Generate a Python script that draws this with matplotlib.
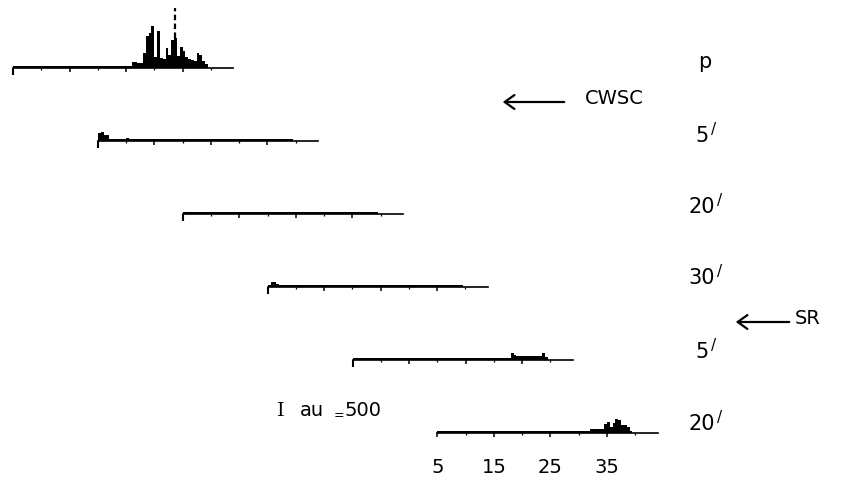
import numpy as np
import matplotlib
matplotlib.use("Agg")
import matplotlib.pyplot as plt

# ---------------- data ----------------
x_start = 5.0          # first bin edge
bin_width = 0.5        # bin width (x units)
x_end = 44.0
tick_values = [5, 15, 25, 35]
tick_labels = ["5", "15", "25", "35"]
minor_values = [10, 20, 30, 40]
row_labels = ["p", "5", "20", "30", "5", "20"]
row_primes = [False, True, True, True, True, True]
scale_unit = "au"
scale_value = "500"

# heights (au) per 0.5-wide bin from 5 to 44 (78 bins)
row_p = [60, 60, 60, 60, 60, 60, 60, 60, 60, 60,
         60, 60, 60, 60, 60, 60, 60, 60, 60, 60,
         60, 60, 60, 60, 60, 60, 60, 60, 60, 60,
         60, 60, 60, 60, 60, 60, 60, 60, 80, 80,
         80, 80, 200, 200, 165, 165, 500, 1050, 1150, 1390,
         360, 1220, 330, 300, 660, 430, 920, 1000, 400, 700,
         560, 360, 300, 265, 230, 500, 430, 230, 130, 0,
         0, 0, 0, 0, 0, 0, 0, 0]
p_offscale_x = 33.75
p_offscale_top = 2000

row_cwsc5 = [250, 300, 200, 200, 80, 70, 70, 70, 70, 70,
             90, 70, 70, 70, 70, 70, 70, 70, 70, 70,
             70, 70, 70, 70, 70, 70, 70, 70, 70, 70,
             70, 70, 70, 70, 70, 70, 70, 70, 70, 70,
             70, 70, 70, 70, 70, 70, 70, 70, 70, 70,
             70, 70, 70, 70, 70, 70, 70, 70, 70, 70,
             70, 70, 70, 70, 70, 70, 70, 70, 70, 0,
             0, 0, 0, 0, 0, 0, 0, 0]

row_cwsc20 = [50, 50, 50, 50, 50, 50, 50, 50, 50, 50,
              50, 50, 50, 50, 50, 50, 50, 50, 50, 75,
              75, 75, 75, 75, 75, 75, 75, 75, 75, 75,
              75, 75, 75, 75, 75, 75, 75, 75, 75, 75,
              75, 75, 75, 75, 75, 75, 75, 75, 75, 75,
              75, 75, 75, 75, 75, 75, 75, 75, 75, 75,
              75, 75, 75, 75, 75, 75, 75, 75, 75, 0,
              0, 0, 0, 0, 0, 0, 0, 0]

row_cwsc30 = [80, 170, 170, 90, 60, 60, 60, 60, 60, 60,
              60, 60, 60, 60, 60, 60, 60, 60, 60, 60,
              60, 60, 60, 60, 60, 60, 60, 60, 60, 60,
              60, 60, 60, 60, 60, 60, 60, 60, 60, 60,
              60, 60, 60, 60, 80, 80, 80, 80, 80, 80,
              80, 80, 80, 80, 80, 80, 80, 80, 80, 80,
              80, 80, 80, 80, 80, 80, 80, 80, 80, 0,
              0, 0, 0, 0, 0, 0, 0, 0]

row_sr5 = [55, 55, 55, 55, 55, 55, 55, 55, 55, 55,
           55, 55, 55, 55, 55, 55, 55, 55, 55, 55,
           55, 55, 55, 55, 55, 55, 55, 55, 55, 55,
           55, 55, 55, 55, 55, 55, 55, 55, 55, 55,
           55, 55, 55, 55, 55, 55, 80, 80, 80, 80,
           80, 80, 80, 80, 80, 80, 230, 180, 130, 130,
           130, 130, 130, 130, 130, 130, 130, 230, 100, 0,
           0, 0, 0, 0, 0, 0, 0, 0]

row_sr20 = [55, 55, 55, 55, 55, 55, 55, 55, 55, 55,
            55, 55, 55, 55, 55, 55, 55, 55, 55, 55,
            55, 55, 55, 55, 55, 55, 55, 55, 55, 55,
            55, 55, 55, 55, 55, 55, 55, 55, 55, 55,
            55, 55, 55, 55, 55, 55, 55, 55, 55, 55,
            80, 80, 80, 80, 130, 130, 130, 130, 130, 300,
            370, 200, 330, 460, 420, 270, 270, 200, 80, 0,
            0, 0, 0, 0, 0, 0, 0, 0]

rows = [row_p, row_cwsc5, row_cwsc20, row_cwsc30, row_sr5, row_sr20]

# ---------------- layout (pixels) ----------------
W, H = 844, 480
fig = plt.figure(figsize=(W / 100, H / 100), dpi=100)
fig.patch.set_facecolor("white")

px_per_unit = 5.65
au_per_px = 33.3
first_left = 13.0
first_base = 68.0
dx_row = 84.9
dy_row = 73.0
ax_h_px = 70.0

edges = np.arange(len(row_p) + 1) * bin_width + x_start

font = ["DejaVu Sans"]

axes = []
for k, vals in enumerate(rows):
    left = first_left + k * dx_row
    base = first_base + k * dy_row
    wpx = (x_end - x_start) * px_per_unit
    ax = fig.add_axes([left / W, (H - base) / H, wpx / W, ax_h_px / H])
    ax.set_xlim(x_start, x_end)
    ax.set_ylim(0, ax_h_px * au_per_px)
    ax.patch.set_alpha(0)
    for s in ["top", "right", "left"]:
        ax.spines[s].set_visible(False)
    ax.spines["bottom"].set_linewidth(1.2)
    ax.stairs(vals, edges, fill=True, color="black", baseline=0, lw=0)
    ax.set_yticks([])
    ax.set_xticks(tick_values)
    ax.set_xticks(minor_values, minor=True)
    ax.tick_params(axis="x", which="major", direction="out", length=3, width=1.1,
                   color="black")
    ax.tick_params(axis="x", which="minor", direction="out", length=1.2, width=0.9,
                   color="black")
    ax.xaxis.get_major_ticks()[0].tick1line.set_markersize(5)
    ax.xaxis.get_major_ticks()[0].tick1line.set_markeredgewidth(1.5)
    if k == len(rows) - 1:
        ax.set_xticklabels(tick_labels, fontsize=14, family=font)
        ax.tick_params(axis="x", which="major", pad=15)
    else:
        ax.set_xticklabels([])
    axes.append(ax)

# off-scale peak of the top row drawn dashed
axes[0].plot([p_offscale_x, p_offscale_x], [row_p[57], p_offscale_top],
             color="black", lw=1.6, ls=(0, (2.5, 1.5)))

# right-hand labels
label_pos = [(705, 62), (702, 136), (702, 207), (702, 278), (702, 352), (702, 424)]
fig.canvas.draw()
for (x, y), t, pr in zip(label_pos, row_labels, row_primes):
    txt = fig.text(x / W, 1 - y / H, t, fontsize=15, family=font, ha="center",
                   va="center")
    if pr:
        bb = txt.get_window_extent(renderer=fig.canvas.get_renderer())
        fig.text((bb.x1 + 2) / W, (bb.y1 + 4) / H, "/", fontsize=11, family=font,
                 ha="left", va="top")

# arrows
fig.add_artist(matplotlib.patches.FancyArrowPatch(
    (567 / W, 1 - 102 / H), (500 / W, 1 - 102 / H), transform=fig.transFigure,
    arrowstyle="->,head_length=7,head_width=5", lw=1.6, color="black"))
cw = fig.text(585 / W, 1 - 98 / H, "CWSC", fontsize=14, family=font, ha="left",
              va="center")
cw.set_fontstretch("expanded")

fig.add_artist(matplotlib.patches.FancyArrowPatch(
    (792 / W, 1 - 322 / H), (733 / W, 1 - 322 / H), transform=fig.transFigure,
    arrowstyle="->,head_length=7,head_width=5", lw=1.6, color="black"))
fig.text(795 / W, 1 - 318 / H, "SR", fontsize=14, family=font, ha="left", va="center")

# scale bar label
fig.text(281 / W, 1 - 411 / H, "I", fontsize=14, family=["DejaVu Serif"],
         ha="center", va="center")
fig.text(300 / W, 1 - 411 / H, scale_unit, fontsize=14, family=font,
         ha="left", va="center")
fig.text(339 / W, 1 - 416 / H, "=", fontsize=9, family=font,
         ha="center", va="center")
fig.text(345 / W, 1 - 411 / H, scale_value, fontsize=14, family=font,
         ha="left", va="center")

fig.savefig("out.png", dpi=100, facecolor="white")
